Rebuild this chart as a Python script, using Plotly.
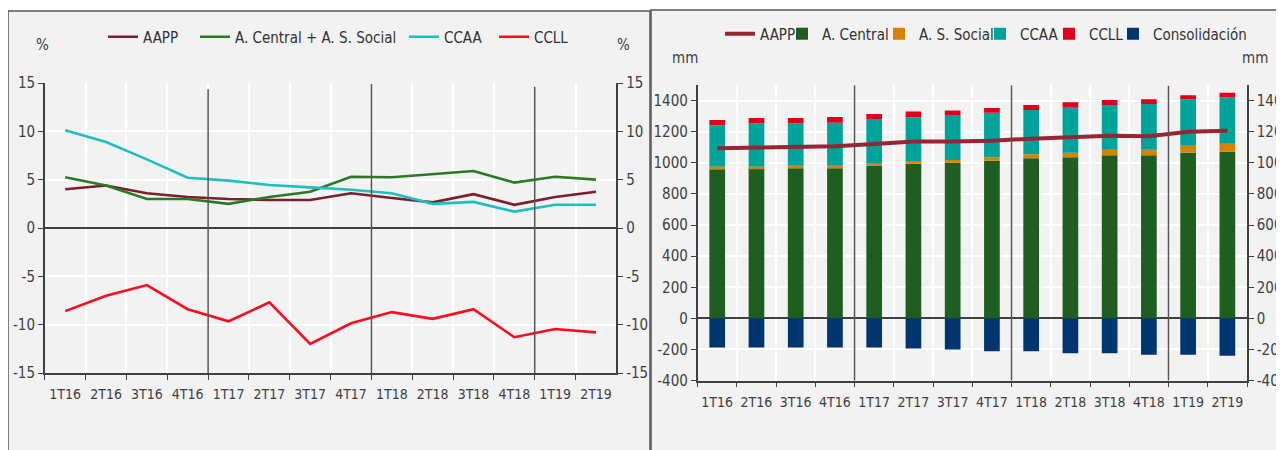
import plotly.graph_objects as go

# ---------------- data ----------------
quarters = ["1T16", "2T16", "3T16", "4T16", "1T17", "2T17", "3T17", "4T17",
            "1T18", "2T18", "3T18", "4T18", "1T19", "2T19"]

# Left chart: growth rates (%)
g_aapp = [4.0, 4.4, 3.6, 3.2, 3.0, 2.9, 2.9, 3.6, 3.1, 2.65, 3.5, 2.4, 3.2, 3.75]
g_central_ss = [5.25, 4.4, 3.0, 3.0, 2.5, 3.2, 3.75, 5.3, 5.25, 5.6, 5.9, 4.7, 5.3, 5.0]
g_ccaa = [10.1, 8.9, 7.1, 5.2, 4.9, 4.45, 4.2, 3.95, 3.6, 2.5, 2.7, 1.7, 2.4, 2.4]
g_ccll = [-8.6, -7.0, -5.9, -8.4, -9.65, -7.7, -12.0, -9.85, -8.7, -9.4, -8.4, -11.3, -10.45, -10.8]

left_ticks = [-15, -10, -5, 0, 5, 10, 15]
left_ticktext = ["-15", "-10", "-5", "0", "5", "10", "15"]

# Right chart: stock (mm)
s_central = [959, 965, 965, 965, 984, 995, 1001, 1014, 1030, 1036, 1049, 1049, 1066, 1072]
s_ss = [17, 10, 17, 17, 15, 17, 18, 22, 25, 30, 36, 36, 45, 52]
s_ccaa = [266, 280, 273, 277, 283, 281, 289, 287, 285, 294, 288, 294, 298, 298]
s_ccll = [34, 34, 34, 36, 33, 37, 30, 30, 33, 30, 32, 30, 26, 30]
s_consol = [-188, -188, -188, -188, -188, -194, -200, -211, -211, -224, -224, -235, -235, -240]
s_aapp = [1094, 1098, 1104, 1107, 1121, 1137, 1137, 1143, 1156, 1165, 1175, 1171, 1201, 1207]

right_ticks = [-400, -200, 0, 200, 400, 600, 800, 1000, 1200, 1400]
right_ticktext = ["-400", "-200", "0", "200", "400", "600", "800", "1000", "1200", "1400"]

year_breaks = [3.5, 7.5, 11.5]

# ---------------- style ----------------
# the page places the figure 8px from the top-left corner
W, H = 1284, 450
OFF = 8
FONT = "DejaVu Sans Condensed, Liberation Sans Narrow, Arial Narrow, sans-serif"
TXT = "#404040"
AX = "#404040"
BG = "#f2f2f2"


def px_x(p):
    return (p - OFF) / W


def px_y(p):
    return 1 - (p - OFF) / H


fig = go.Figure()

# left lines
left_series = [
    ("AAPP", g_aapp, "#7a1f2b", 47),
    ("A. Central + A. S. Social", g_central_ss, "#2a7a25", 164),
    ("CCAA", g_ccaa, "#1fbfbf", 45),
    ("CCLL", g_ccll, "#ff0a1e", 40),
]
for name, vals, col, lw in left_series:
    fig.add_trace(go.Scatter(x=quarters, y=vals, name=name, mode="lines",
                             line=dict(color=col, width=2.6),
                             xaxis="x", yaxis="y", legend="legend",
                             legendwidth=lw))
# invisible trace to activate right-hand axis of left chart
fig.add_trace(go.Scatter(x=quarters, y=g_aapp, xaxis="x", yaxis="y3",
                         opacity=0, showlegend=False, hoverinfo="skip",
                         mode="lines"))

# right bars + line
fig.add_trace(go.Scatter(x=quarters, y=s_aapp, name="AAPP", mode="lines",
                         line=dict(color="#9a2433", width=4),
                         xaxis="x2", yaxis="y2", legend="legend2",
                         legendwidth=17))
bar_series = [
    ("A. Central", s_central, "#1f5e20", 52),
    ("A. S. Social", s_ss, "#d98200", 56),
    ("CCAA", s_ccaa, "#00a39a", 24),
    ("CCLL", s_ccll, "#e10019", 19),
    ("Consolidación", s_consol, "#003570", 94),
]
for name, vals, col, lw in bar_series:
    fig.add_trace(go.Bar(x=quarters, y=vals, name=name, marker_color=col,
                         marker_line_width=0,
                         xaxis="x2", yaxis="y2", legend="legend2",
                         legendwidth=lw))
fig.add_trace(go.Scatter(x=quarters, y=s_aapp, xaxis="x2", yaxis="y4",
                         opacity=0, showlegend=False, hoverinfo="skip",
                         mode="lines"))

# ---------------- axes ----------------
xcommon = dict(type="category", range=[-0.5, 13.5], tickson="boundaries",
               ticks="outside", ticklen=5, tickcolor=AX, tickwidth=1,
               tickangle=0, automargin=False,
               showgrid=True, gridcolor="white", gridwidth=1.5,
               showline=True, linecolor=AX, linewidth=1.5,
               tickfont=dict(family=FONT, size=14, color=TXT),
               zeroline=False)
ycommon = dict(ticks="outside", ticklen=5, tickcolor=AX, tickwidth=1,
               automargin=False,
               showline=True, linecolor=AX, linewidth=1.5,
               tickfont=dict(family=FONT, size=15, color=TXT))

fig.update_layout(
    xaxis=dict(domain=[px_x(44.8), px_x(616.4)], anchor="y",
               ticklabelstandoff=7, **xcommon),
    yaxis=dict(domain=[px_y(373), px_y(83)], anchor="x", range=[-15, 15],
               tickvals=left_ticks, ticktext=left_ticktext,
               showgrid=True, gridcolor="white", gridwidth=1.5,
               zeroline=True, zerolinecolor=AX, zerolinewidth=2, **ycommon),
    yaxis3=dict(overlaying="y", side="right", anchor="x", range=[-15, 15],
                tickvals=left_ticks, ticktext=left_ticktext,
                showgrid=False, zeroline=False, **ycommon),
    xaxis2=dict(domain=[px_x(697.6), px_x(1247)], anchor="y2",
                ticklabelstandoff=8, **xcommon),
    yaxis2=dict(domain=[px_y(380.5), px_y(85.2)], anchor="x2", range=[-400, 1500],
                tickvals=right_ticks, ticktext=right_ticktext,
                showgrid=True, gridcolor="white", gridwidth=1.5,
                zeroline=True, zerolinecolor=AX, zerolinewidth=2, **ycommon),
    yaxis4=dict(overlaying="y2", side="right", anchor="x2", range=[-400, 1500],
                tickvals=right_ticks, ticktext=right_ticktext,
                showgrid=False, zeroline=False, **ycommon),
    barmode="relative",
    bargap=0.6,
    width=W, height=H,
    margin=dict(l=0, r=0, t=0, b=0, autoexpand=False),
    paper_bgcolor="white",
    plot_bgcolor="rgba(0,0,0,0)",
    font=dict(family=FONT, size=15, color=TXT),
    legend=dict(orientation="h", x=px_x(103), y=px_y(37), xanchor="left",
                yanchor="middle", bgcolor="rgba(0,0,0,0)",
                font=dict(family=FONT, size=15, color="#333333"),
                traceorder="normal"),
    legend2=dict(orientation="h", x=px_x(720), y=px_y(34), xanchor="left",
                 yanchor="middle", bgcolor="rgba(0,0,0,0)",
                 font=dict(family=FONT, size=15, color="#333333"),
                 traceorder="normal"),
    showlegend=True,
)

# panels
shapes = [
    dict(type="rect", xref="paper", yref="paper", x0=px_x(8), x1=px_x(650),
         y0=-0.05, y1=px_y(11), fillcolor=BG, line=dict(color="#555555", width=1.5),
         layer="below"),
    dict(type="rect", xref="paper", yref="paper", x0=px_x(651), x1=1.05,
         y0=-0.05, y1=px_y(10), fillcolor=BG, line=dict(color="#555555", width=1.5),
         layer="below"),
]
left_tops = [14.35, 14.9, 14.6]
right_tops = [1516, 1508, 1496]
for xb, t in zip(year_breaks, left_tops):
    shapes.append(dict(type="line", xref="x", yref="y", x0=xb, x1=xb, y0=-15.4, y1=t,
                       line=dict(color="#555555", width=1.5)))
for xb, t in zip(year_breaks, right_tops):
    shapes.append(dict(type="line", xref="x2", yref="y2", x0=xb, x1=xb, y0=-405, y1=t,
                       line=dict(color="#555555", width=1.5)))
fig.update_layout(shapes=shapes)

ann = []
for text, xp, yp in [("%", 42, 45), ("%", 623, 45), ("mm", 685, 58), ("mm", 1255, 58)]:
    ann.append(dict(text=text, xref="paper", yref="paper", x=px_x(xp), y=px_y(yp),
                    xanchor="center", yanchor="middle", showarrow=False,
                    font=dict(family=FONT, size=15, color=TXT)))
fig.update_layout(annotations=ann)

fig.write_html("out.html")
